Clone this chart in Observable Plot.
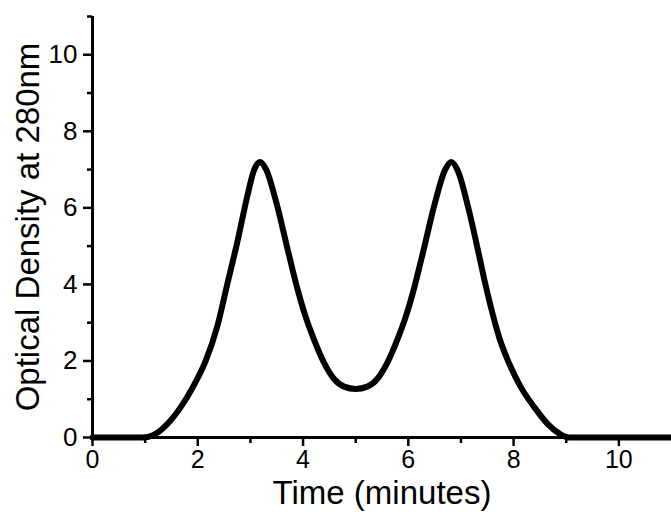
<!DOCTYPE html>
<html>
<head>
<meta charset="utf-8">
<script src="https://cdn.jsdelivr.net/npm/d3@7"></script>
<script src="https://cdn.jsdelivr.net/npm/@observablehq/plot@0.6"></script>
<style>
  html, body { margin: 0; padding: 0; background: #fff; }
  #chart { width: 671px; height: 517px; }
</style>
</head>
<body>
<div id="chart"></div>
<script>
// Time (minutes)
const time = [0, 0.5, 0.95, 1.15, 1.42, 1.67, 1.92, 2.15, 2.37, 2.56, 2.75, 2.94, 3.06, 3.18, 3.3, 3.5, 3.71, 3.9, 4.05, 4.21, 4.4, 4.59, 4.78, 5.0, 5.22, 5.41, 5.6, 5.79, 5.95, 6.1, 6.29, 6.5, 6.7, 6.82, 6.94, 7.14, 7.33, 7.44, 7.57, 7.73, 7.92, 8.14, 8.4, 8.65, 8.87, 9.05, 9.5, 11];
// Optical density at 280 nm
const od = [0, 0, 0, 0.06, 0.35, 0.78, 1.35, 2.0, 2.9, 4.0, 5.1, 6.3, 6.95, 7.2, 7.0, 6.1, 4.9, 3.85, 3.15, 2.55, 1.95, 1.53, 1.33, 1.27, 1.33, 1.53, 1.95, 2.55, 3.15, 3.85, 4.9, 6.1, 7.0, 7.2, 6.97, 6.0, 4.85, 4.15, 3.4, 2.6, 1.92, 1.31, 0.78, 0.35, 0.1, 0, 0, 0];

const xMajor = [0, 2, 4, 6, 8, 10];
const xMinor = [1, 3, 5, 7, 9];
const yMajor = [0, 2, 4, 6, 8, 10];
const yMinor = [1, 3, 5, 7, 9, 11];
const xLabel = "Time (minutes)";
const yLabel = "Optical Density at 280nm";

const data = time.map((t, i) => ({t, od: od[i]}));

const chart = Plot.plot({
  width: 671,
  height: 517,
  marginLeft: 92,
  marginRight: 0,
  marginTop: 16,
  marginBottom: 80,
  x: {domain: [0, 11]},
  y: {domain: [0, 11]},
  style: {fontFamily: "'Liberation Sans', Arial, Helvetica, sans-serif", background: "#fff", color: "#000", overflow: "visible"},
  marks: [
    Plot.axisX({ticks: xMajor, tickSize: 9, tickPadding: 4, fontSize: 25, strokeWidth: 2.5, label: null, tickFormat: d => String(d)}),
    Plot.axisX({ticks: xMinor, tickSize: 6, text: null, strokeWidth: 2.5, label: null}),
    Plot.axisY({ticks: yMajor, tickSize: 9, tickPadding: 6, fontSize: 26, strokeWidth: 2.5, label: null, tickFormat: d => String(d)}),
    Plot.axisY({ticks: yMinor, tickSize: 5, text: null, strokeWidth: 2.5, label: null}),
    Plot.ruleY([0], {strokeWidth: 3}),
    Plot.ruleX([0], {strokeWidth: 3}),
    Plot.line(data, {x: "t", y: "od", curve: "monotone-x", strokeWidth: 6, strokeLinejoin: "round", strokeLinecap: "round"}),
    Plot.text([xLabel], {frameAnchor: "bottom", dy: 66, fontSize: 33, textAnchor: "middle"}),
    Plot.text([yLabel], {frameAnchor: "left", dx: -64, rotate: -90, fontSize: 33, textAnchor: "middle"})
  ]
});
document.getElementById("chart").appendChild(chart);
</script>
</body>
</html>
